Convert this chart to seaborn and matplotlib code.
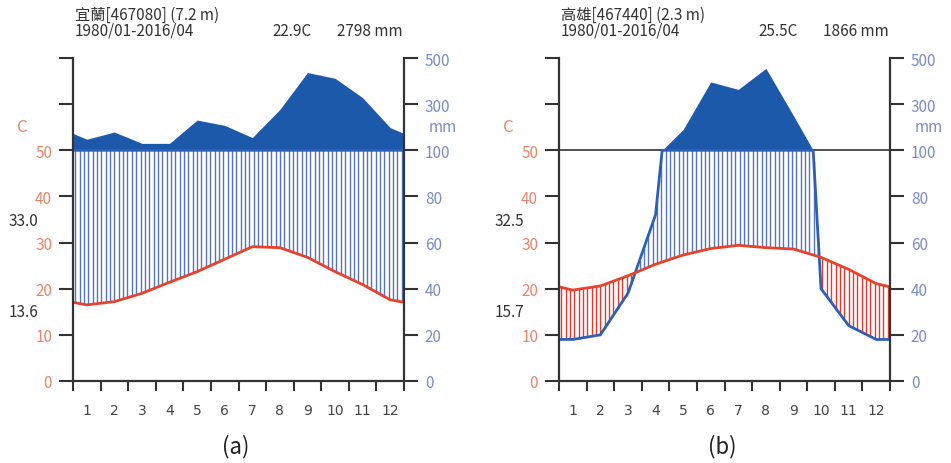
import numpy as np
import matplotlib
matplotlib.use('Agg')
import matplotlib.pyplot as plt
import seaborn as sns

# monthly means
months = list(range(1, 13))
yilan_temp = [16.5, 17.2, 19.0, 21.4, 23.7, 26.4, 29.1, 28.9, 26.8, 23.7, 20.9, 17.6]
yilan_prec = [148, 179, 130, 130, 231, 208, 155, 277, 437, 412, 328, 198]
kaohsiung_temp = [19.7, 20.6, 22.8, 25.3, 27.3, 28.7, 29.4, 28.9, 28.6, 26.8, 24.2, 21.1]
kaohsiung_prec = [18, 20, 38, 72, 190, 396, 364, 455, 250, 40, 24, 18]

station_names = ['宜蘭[467080] (7.2 m)', '高雄[467440] (2.3 m)']
periods = ['1980/01-2016/04', '1980/01-2016/04']
annual_temp = ['22.9C', '25.5C']
annual_prec = ['2798 mm', '1866 mm']
abs_max = ['33.0', '32.5']
abs_min = ['13.6', '15.7']
panel_labels = ['(a)', '(b)']

temp_ticks = [0, 10, 20, 30, 40, 50]
prec_ticks = [0, 20, 40, 60, 80, 100, 300, 500]

RED = '#e8412c'
RED_HATCH = '#e23a2a'
BLUE = '#1d59ab'
BLUE_LINE = '#2c60b6'
BLUE_HATCH = '#5574b9'
SALMON = '#e9866c'
BLUEGREY = '#7b8dc3'
DARK = '#333333'

sns.set_style('white')
plt.rcParams['font.family'] = ['Noto Sans CJK TC', 'DejaVu Sans']

W, H = 951, 464


def prec_to_axis(p):
    p = np.asarray(p, dtype=float)
    return np.where(p <= 100, p / 2, 50 + (p - 100) / 20)


def wrap(v):
    v = np.asarray(v, dtype=float)
    edge = (v[0] + v[-1]) / 2
    return np.concatenate([[edge], v, [edge]])


def draw_panel(ax, temp, prec):
    xe = np.concatenate([[0], np.arange(12) + 0.5, [12]])
    te = wrap(temp)
    pe = wrap(prec)

    xd = np.linspace(0, 12, 2401)
    td = np.interp(xd, xe, te)
    pdd = np.interp(xd, xe, pe)
    low = np.minimum(pdd / 2, 50)
    high = 50 + (pdd - 100) / 20

    ax.axhline(50, color=DARK, lw=1.2, zorder=1)

    # vertical hatching: humid (blue) / arid (red)
    xs = (np.arange(76) + 0.5) * 12 / 76
    th = np.interp(xs, xe, te)
    lh = np.minimum(np.interp(xs, xe, pe) / 2, 50)
    wet = lh > th
    ax.vlines(xs[wet], th[wet], lh[wet], color=BLUE_HATCH, lw=1.0, zorder=2)
    ax.vlines(xs[~wet], lh[~wet], th[~wet], color=RED_HATCH, lw=1.0, zorder=2)

    # precipitation above 100 mm, compressed scale
    ax.fill_between(xd, 50, high, where=high >= 50, color=BLUE, lw=0, zorder=3)

    sns.lineplot(x=xd, y=low, ax=ax, color=BLUE_LINE, lw=2, sort=False,
                 estimator=None, zorder=4)
    sns.lineplot(x=xe, y=te, ax=ax, color=RED, lw=2, sort=False,
                 estimator=None, zorder=5)

    ax.set_xlim(0, 12)
    ax.set_ylim(0, 70)
    ax.set_xlabel('')
    ax.set_ylabel('')

    ax.set_xticks(range(13))
    ax.set_xticklabels([])
    ax.set_xticks(np.arange(12) + 0.5, minor=True)
    ax.set_xticklabels([str(m) for m in months], minor=True,
                       family='DejaVu Sans', fontsize=10, color='#444444')
    ax.tick_params(axis='x', which='major', direction='out', length=7, width=1.5,
                   color=DARK, bottom=True)
    ax.tick_params(axis='x', which='minor', length=0, pad=16, bottom=True)

    ax.set_yticks(list(temp_ticks) + [60, 70])
    ax.set_yticklabels([str(t) for t in temp_ticks] + ['', ''])
    ax.tick_params(axis='y', direction='out', length=10, width=1.5, color=DARK,
                   labelcolor=SALMON, labelsize=11, pad=5, left=True)

    for s in ['top', 'right']:
        ax.spines[s].set_visible(False)
    for s in ['left', 'bottom']:
        ax.spines[s].set_color(DARK)
        ax.spines[s].set_linewidth(1.6)
        ax.spines[s].set_zorder(6)

    ax2 = ax.twinx()
    ax2.set_ylim(0, 70)
    ax2.set_yticks(prec_to_axis(prec_ticks))
    ax2.set_yticklabels([str(p) for p in prec_ticks])
    ax2.tick_params(axis='y', direction='out', length=10, width=1.5, color=DARK,
                    labelcolor=BLUEGREY, labelsize=11, pad=5, right=True)
    for s in ['top', 'left', 'bottom']:
        ax2.spines[s].set_visible(False)
    ax2.spines['right'].set_color(DARK)
    ax2.spines['right'].set_linewidth(1.6)
    ax2.grid(False)


def ftext(fig, x, y, s, **kw):
    fig.text(x / W, 1 - y / H, s, **kw)


fig = plt.figure(figsize=(W / 100, H / 100), dpi=100)

panels = [(yilan_temp, yilan_prec), (kaohsiung_temp, kaohsiung_prec)]
for i, (temp, prec) in enumerate(panels):
    dx = 486 * i
    ax = fig.add_axes([(73 + dx) / W, (H - 382) / H, 331 / W, (382 - 59) / H])
    draw_panel(ax, temp, prec)

    ftext(fig, 75 + dx, 15, station_names[i], ha='left', va='center', fontsize=11, color=DARK)
    ftext(fig, 75 + dx, 31, periods[i], ha='left', va='center', fontsize=11, color=DARK)
    ftext(fig, 312 + dx, 31, annual_temp[i], ha='right', va='center', fontsize=11, color=DARK)
    ftext(fig, 403 + dx, 31, annual_prec[i], ha='right', va='center', fontsize=11, color=DARK)
    ftext(fig, 22 + dx, 128, 'C', ha='center', va='center', fontsize=12, color=SALMON)
    ftext(fig, 443 + dx, 127, 'mm', ha='center', va='center', fontsize=11, color=BLUEGREY)
    ftext(fig, 38 + dx, 222, abs_max[i], ha='right', va='center', fontsize=11, color=DARK)
    ftext(fig, 38 + dx, 313, abs_min[i], ha='right', va='center', fontsize=11, color=DARK)
    ftext(fig, 236 + dx, 447, panel_labels[i], ha='center', va='center', fontsize=16, color='#222222')

fig.savefig('out.png', dpi=100)
